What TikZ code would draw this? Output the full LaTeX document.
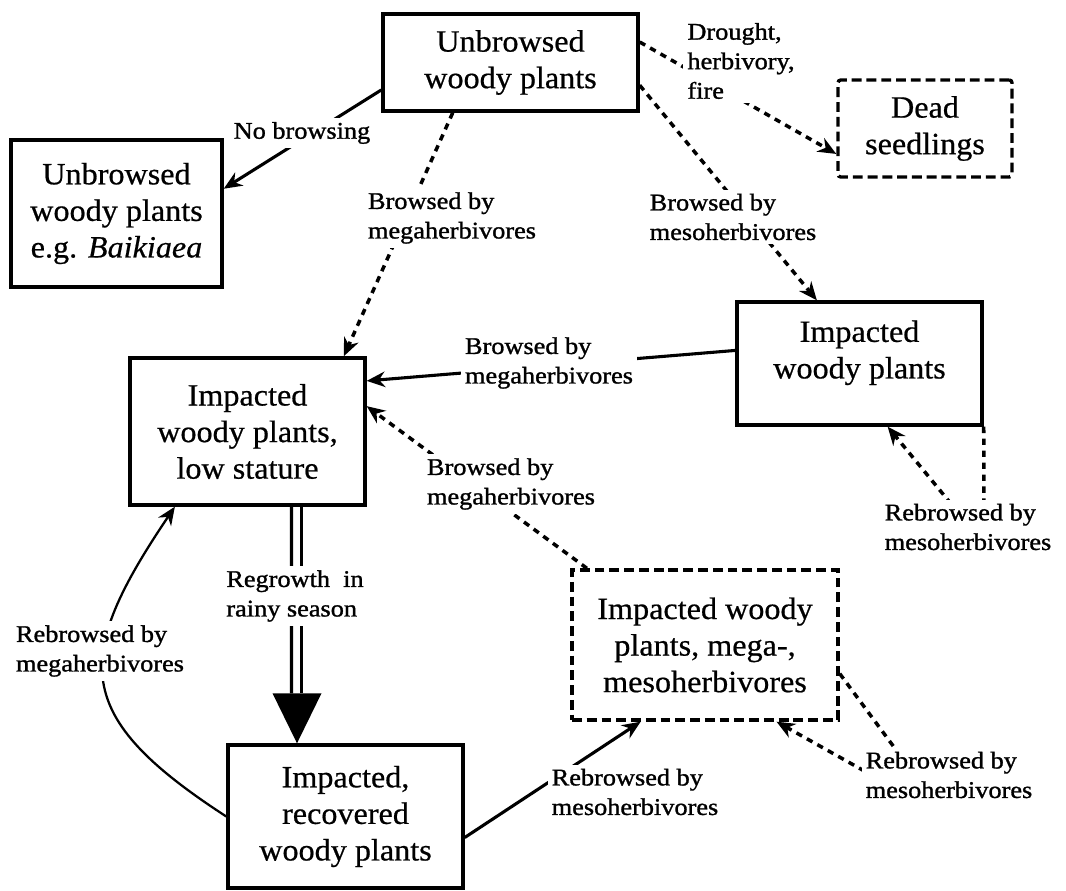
\documentclass[tikz,border=0pt]{standalone}
\usepackage{fontspec}
\setmainfont{Liberation Serif}
\newfontfamily\boxfont[FakeStretch=1.04,FakeBold=0.6]{Liberation Serif}
\newfontfamily\lblfont[FakeStretch=1.1,FakeBold=1.2]{Liberation Serif}
\usetikzlibrary{arrows.meta,calc}
\begin{document}
\begin{tikzpicture}[x=0.025cm,y=-0.025cm,
  box/.style={draw,line width=2.4pt,align=center,inner sep=0pt,font=\boxfont\fontsize{22}{26}\selectfont},
  dbox/.style={box,dash pattern=on 7pt off 3.5pt},
  lbl/.style={fill=white,inner sep=3pt,align=left,font=\lblfont\fontsize{17}{21}\selectfont},
  conn/.style={line width=2.2pt,-{Stealth[length=13pt,width=11pt]}},
  dconn/.style={conn,line width=2.5pt,dash pattern=on 4.5pt off 4pt},
  ]
\useasboundingbox (0,0) rectangle (1066,891);
% boxes
\node[box,minimum width=6.375cm,minimum height=2.425cm] (top) at (510.5,62.5) {Unbrowsed\\woody plants};
\node[box,minimum width=5.275cm,minimum height=3.675cm] (baik) at (116.5,213.5) {Unbrowsed\\woody plants\\e.g. \textit{Baikiaea}};
\node[dbox,rounded corners=2pt,minimum width=4.35cm,minimum height=2.425cm] (dead) at (925,128.5) {Dead\\seedlings};
\node[box,minimum width=5.875cm,minimum height=3.675cm] (low) at (247.5,431.5) {Impacted\\woody plants,\\low stature};
\node[box,minimum width=6.125cm,minimum height=3.075cm,text depth=20pt] (imp) at (859.5,363.5) {Impacted\\woody plants};
\node[dbox,minimum width=6.65cm,minimum height=3.75cm] (mm) at (705,645) {Impacted woody\\plants, mega-,\\mesoherbivores};
\node[box,minimum width=5.875cm,minimum height=3.575cm] (rec) at (345.5,816.5) {Impacted,\\recovered\\woody plants};
% connectors
\draw[conn] (top.192) -- (baik.13);
\draw[dconn] (top.221) -- (low.38);
\draw[dconn] (top.9.5) -- (dead.196);
\draw[dconn] (top.-10) -- (imp.124);
\draw[conn] (imp.174.6) -- (low.23.7);
\draw[dconn] (mm.147) -- (low.12);
\coordinate (g1) at (984,512);
\coordinate (g2) at (952,505);
\draw[dconn] (imp.south east) -- (g1) -- (g2) -- (imp.-66.6);
\coordinate (rt) at ($(rec.north)+(-48.5,0)$);
\draw[line width=2.4pt] ($(low.south)+(44,0)$) -- ($(rt)+(-5.5,-50)$);
\draw[line width=2.4pt] ($(low.south)+(54,0)$) -- ($(rt)+(4.5,-50)$);
\fill ($(rt)+(-24.5,-50)$) -- ($(rt)+(24.5,-50)$) -- (rt) -- cycle;
\draw[line width=1.6pt,-{Stealth[length=13pt,width=11pt]}] (rec.west) to[out=147,in=236,looseness=1.5] (low.226);
\draw[conn] (rec.-10.6) -- (mm.230);
\coordinate (k1) at (905,762);
\coordinate (k2) at (875,777);
\draw[dconn] (mm.-12) -- (k1) -- (k2) -- (mm.-47.8);
% labels
\node[lbl] (l1) at (302,133) {No browsing};
\node[lbl] (l2) at (452,218) {Browsed by\\megaherbivores};
\node[lbl] (l3) at (741,61) {Drought,\\herbivory,\\fire};
\node[lbl] (l4) at (733,217) {Browsed by\\mesoherbivores};
\node[lbl] (l5) at (549,363) {Browsed by\\megaherbivores};
\node[lbl] (l6) at (511,484) {Browsed by\\megaherbivores};
\node[lbl] (l7) at (968,527) {Rebrowsed by\\mesoherbivores};
\node[lbl] (l8) at (295,596) {Regrowth~\ in\\rainy season};
\node[lbl] (l9) at (100,651) {Rebrowsed by\\megaherbivores};
\node[lbl] (l10) at (635,792) {Rebrowsed by\\mesoherbivores};
\node[lbl] (l11) at (949,775) {Rebrowsed by\\mesoherbivores};
\end{tikzpicture}
\end{document}
